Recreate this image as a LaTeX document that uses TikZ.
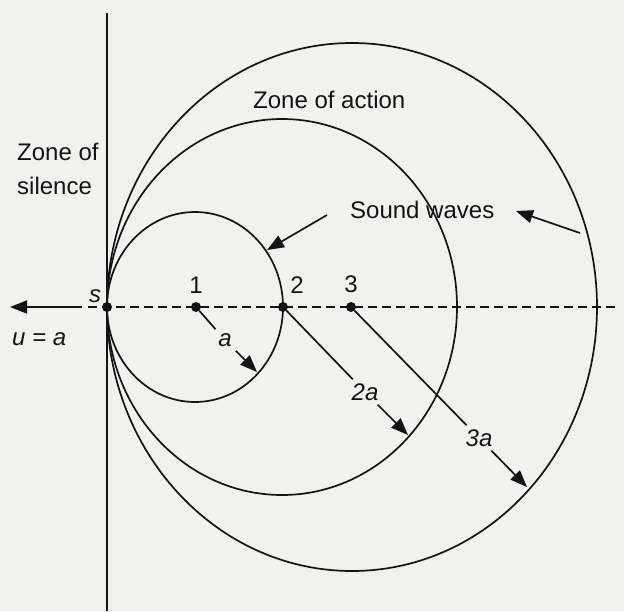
\documentclass[tikz,border=0pt]{standalone}
\usepackage{fontspec}
\setmainfont{Liberation Sans}
\usetikzlibrary{arrows.meta}
\definecolor{bg}{RGB}{241,241,239}
\definecolor{ink}{RGB}{20,20,20}
\begin{document}
\begin{tikzpicture}[x=1pt,y=-1pt,
  wave/.style={draw=ink, line width=1.7pt},
  rline/.style={draw=ink, line width=1.7pt},
  dline/.style={draw=ink, line width=1.6pt, dash pattern=on 9pt off 5pt},
  arr/.style={draw=ink, line width=1.7pt, -{Triangle[length=17pt,width=13pt]}},
  dot/.style={circle, fill=ink, inner sep=0pt, minimum size=10pt},
  lbl/.style={font=\fontsize{24}{28}\selectfont, text=ink, inner sep=0pt},
  ilbl/.style={font=\fontsize{24}{28}\selectfont\itshape, text=ink, inner sep=4pt}]
\fill[bg] (0,0) rectangle (624,611);
\useasboundingbox (0,0) rectangle (624,611);

% wave fronts
\draw[wave] (195,307) ellipse [x radius=88, y radius=95];
\draw[wave] (282,307) ellipse [x radius=175, y radius=188];
\draw[wave] (352,307) ellipse [x radius=245, y radius=264];

% vertical line
\coordinate (vt) at (107,13);
\coordinate (vb) at (107,611);
\draw[rline] (vt) -- (vb);

% axis
\coordinate (dl) at (88,307);
\coordinate (dr) at (616,307);
\draw[dline] (dl) -- (dr);
\coordinate (ul) at (82,307);
\coordinate (ue) at (10,307);
\draw[arr] (ul) -- (ue);

% points
\node[dot] (s) at (107,307) {};
\node[dot] (p1) at (196,307) {};
\node[dot] (p2) at (283,307) {};
\node[dot] (p3) at (351,307) {};

% point labels
\node[ilbl, inner sep=0pt, anchor=base] (ls) at (95,302) {s};
\node[lbl, anchor=base] (l1) at (196,293) {1};
\node[lbl, anchor=base] (l2) at (297,293) {2};
\node[lbl, anchor=base] (l3) at (351,292) {3};
\node[ilbl, inner sep=0pt, anchor=base west] (lu) at (12,345) {u = a};

% radius arrows
\node[ilbl] (la) at (225,340) {a};
\coordinate (ta) at (257,372);
\draw[rline] (p1) -- (la);
\draw[arr] (la) -- (ta);

\node[ilbl] (l2a) at (365,392) {2a};
\coordinate (t2a) at (408,435);
\draw[rline] (p2) -- (l2a);
\draw[arr] (l2a) -- (t2a);

\node[ilbl] (l3a) at (479,438) {3a};
\coordinate (t3a) at (527,487);
\draw[rline] (p3) -- (l3a);
\draw[arr] (l3a) -- (t3a);

% text labels
\node[lbl, anchor=base west] (zs1) at (17,160) {Zone of};
\node[lbl, anchor=base west] (zs2) at (17,194) {silence};
\node[lbl, anchor=base west] (za) at (253,108) {Zone of action};
\node[lbl, anchor=base west] (sw) at (350,218) {Sound waves};

% sound wave pointers
\coordinate (sw1s) at (327,215);
\coordinate (sw1t) at (267,250);
\draw[arr] (sw1s) -- (sw1t);
\coordinate (sw2s) at (580,233);
\coordinate (sw2t) at (516,211);
\draw[arr] (sw2s) -- (sw2t);
\end{tikzpicture}
\end{document}
